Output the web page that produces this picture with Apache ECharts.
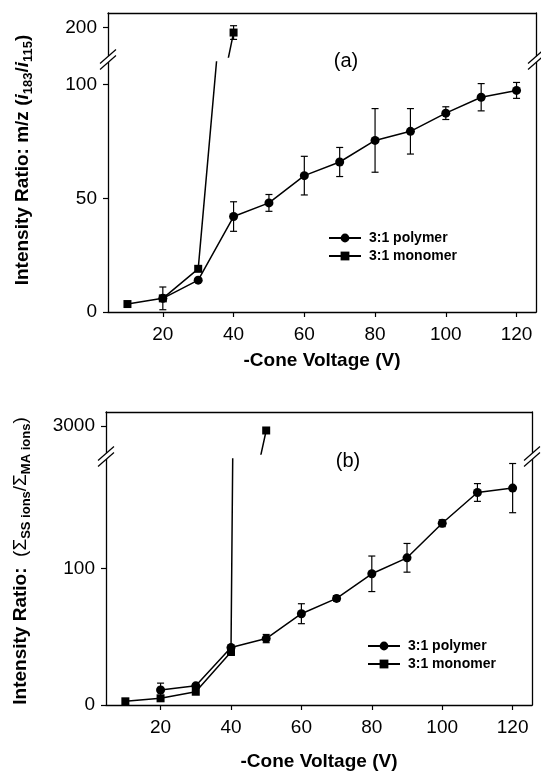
<!DOCTYPE html>
<html><head><meta charset="utf-8">
<script src="https://cdn.jsdelivr.net/npm/echarts@6/dist/echarts.min.js"></script>
<style>html,body{margin:0;padding:0;background:#fff}#c{width:541px;height:772px}</style>
</head><body><div id="c"></div>
<script>
// ---- data ----
const xVals = [10, 20, 30, 40, 50, 60, 70, 80, 90, 100, 110, 120];
const xTicks = [20, 40, 60, 80, 100, 120];
// panel (a)
const polyA    = [null, 6, 14, 42, 48, 60, 66, 75.5, 79.5, 87.5, 94.5, 97.5];
const polyAErr = [null, 5, 0, 6.5, 3.7, 8.5, 6.4, 14, 10, 2.8, 6, 3.5];
const monoA    = [3.5, 6, 19, 195];
const monoAErr = [0, 0, 0, 7];
const aLowTicks = [0, 50, 100];
const aHighTicks = [200];
// panel (b)
const polyB    = [null, 11, 14, 42, 48.6, 66.8, 78, 96, 107.7, 133, 155.5, 158.7];
const polyBErr = [null, 5, 1.5, 2, 3, 7.3, 2, 13, 10.5, 2.5, 6.5, 18];
const monoB    = [2.7, 4.9, 9.7, 38.8, 2920];
const bLowTicks = [0, 100];
const bHighTicks = [3000];
const names = ['3:1 polymer', '3:1 monomer'];

// ---- helpers ----
const FONT = "'Liberation Sans', Arial, sans-serif";
function pts(vals) { return vals.map((v, i) => [xVals[i], v]).filter(p => p[1] != null); }
function errPts(vals, errs) { return vals.map((v, i) => [xVals[i], v, errs[i]]).filter(p => p[1] != null && p[2] > 0); }
function errRender(params, api) {
  const x = api.value(0), y = api.value(1), e = api.value(2);
  const hi = api.coord([x, y + e]), lo = api.coord([x, y - e]);
  const w = 3.5, st = { stroke: '#000', lineWidth: 1.2 };
  return { type: 'group', children: [
    { type: 'line', shape: { x1: hi[0], y1: hi[1], x2: lo[0], y2: lo[1] }, style: st },
    { type: 'line', shape: { x1: hi[0] - w, y1: hi[1], x2: hi[0] + w, y2: hi[1] }, style: st },
    { type: 'line', shape: { x1: lo[0] - w, y1: lo[1], x2: lo[0] + w, y2: lo[1] }, style: st }
  ]};
}
const axisLineStyle = { show: true, lineStyle: { color: '#000', width: 1.3 } };
const labelStyle = { color: '#000', fontSize: 19, fontFamily: FONT, formatter: v => String(v) };

function xAxisLow(gi) {
  return { type: 'value', gridIndex: gi, min: 4.5, max: 125.5, position: 'bottom',
    axisLine: Object.assign({ onZero: false }, axisLineStyle),
    axisTick: { show: true, length: 5, customValues: xTicks, lineStyle: { color: '#000', width: 1.2 } },
    axisLabel: Object.assign({ margin: 13, customValues: xTicks }, labelStyle),
    splitLine: { show: false },
    name: '-Cone Voltage (V)', nameLocation: 'middle', nameGap: gi === 1 ? 39 : 47,
    nameTextStyle: { color: '#000', fontSize: 19, fontWeight: 'bold', fontFamily: FONT } };
}
function xAxisHigh(gi) {
  return { type: 'value', gridIndex: gi, min: 4.5, max: 125.5, position: 'top',
    axisLine: Object.assign({ onZero: false }, axisLineStyle),
    axisTick: { show: false }, axisLabel: { show: false }, splitLine: { show: false } };
}
function yAxisL(gi, min, max, ticks) {
  return { type: 'value', gridIndex: gi, min: min, max: max, position: 'left',
    axisLine: Object.assign({ onZero: false }, axisLineStyle),
    axisTick: { show: true, length: 5, customValues: ticks, lineStyle: { color: '#000', width: 1.2 } },
    axisLabel: Object.assign({ margin: 11, customValues: ticks }, labelStyle),
    splitLine: { show: false } };
}
function yAxisR(gi, min, max) {
  return { type: 'value', gridIndex: gi, min: min, max: max, position: 'right',
    axisLine: Object.assign({ onZero: false }, axisLineStyle),
    axisTick: { show: false }, axisLabel: { show: false }, splitLine: { show: false } };
}
function lineSeries(name, sym, size, data, xi, yi) {
  return { type: 'line', name: name, xAxisIndex: xi, yAxisIndex: yi, data: data, clip: true,
    symbol: sym, symbolSize: size, showSymbol: true, z: 3,
    lineStyle: { color: '#000', width: 1.5 }, itemStyle: { color: '#000', borderWidth: 0 },
    animation: false };
}
function errSeries(data, xi, yi) {
  return { type: 'custom', xAxisIndex: xi, yAxisIndex: yi, data: data, clip: true, z: 2,
    renderItem: errRender, animation: false, silent: true };
}
function breakMark(cx, cy) {
  const s = { stroke: '#000', lineWidth: 1.2 };
  return [
    { type: 'polygon', z: 100, shape: { points: [[cx - 8, cy + 4], [cx + 8, cy - 10], [cx + 8, cy - 4], [cx - 8, cy + 10]] }, style: { fill: '#fff', stroke: null } },
    { type: 'line', z: 101, shape: { x1: cx - 8, y1: cy + 4, x2: cx + 8, y2: cy - 10 }, style: s },
    { type: 'line', z: 101, shape: { x1: cx - 8, y1: cy + 10, x2: cx + 8, y2: cy - 4 }, style: s }
  ];
}

const grids = [
  { left: 108, width: 428, top: 13, height: 44 },   // 0: a upper
  { left: 108, width: 428, top: 62, height: 250 },  // 1: a lower
  { left: 106, width: 426, top: 412, height: 42 },  // 2: b upper
  { left: 106, width: 426, top: 459, height: 247 }  // 3: b lower
];
const xAxes = [xAxisHigh(0), xAxisLow(1), xAxisHigh(2), xAxisLow(3)];
const yAxes = [
  yAxisL(0, 170, 215, aHighTicks), yAxisL(1, 0, 110, aLowTicks),
  yAxisL(2, 2500, 3250, bHighTicks), yAxisL(3, 0, 180, bLowTicks),
  yAxisR(0, 170, 215), yAxisR(1, 0, 110), yAxisR(2, 2500, 3250), yAxisR(3, 0, 180)
];

const series = [
  // panel a lower
  errSeries(errPts(polyA, polyAErr), 1, 1),
  lineSeries(names[0], 'circle', 9, pts(polyA), 1, 1),
  lineSeries(names[1], 'rect', 8, pts(monoA), 1, 1),
  // panel a upper
  errSeries(errPts(monoA, monoAErr), 0, 0),
  lineSeries(names[1], 'rect', 8, pts(monoA), 0, 0),
  // panel b lower
  errSeries(errPts(polyB, polyBErr), 3, 3),
  lineSeries(names[0], 'circle', 9, pts(polyB), 3, 3),
  lineSeries(names[1], 'rect', 8, pts(monoB), 3, 3),
  // panel b upper
  lineSeries(names[1], 'rect', 8, pts(monoB), 2, 2)
];

const legendCommon = { orient: 'vertical', itemWidth: 32, itemHeight: 11, itemGap: 4, data: names,
  textStyle: { color: '#000', fontSize: 14, fontWeight: 'bold', fontFamily: FONT, padding: [0, 0, 0, 3] },
  selectedMode: false };

const richA = {
  b: { fontSize: 19, fontWeight: 'bold', fontFamily: FONT, fill: '#000', lineHeight: 23 },
  bi: { fontSize: 19, fontWeight: 'bold', fontStyle: 'italic', fontFamily: FONT, fill: '#000', lineHeight: 23 },
  s: { fontSize: 13, fontWeight: 'bold', fontFamily: FONT, fill: '#000', lineHeight: 13, verticalAlign: 'bottom' }
};
const richB = {
  b: { fontSize: 19, fontWeight: 'bold', fontFamily: FONT, fill: '#000', lineHeight: 23 },
  n: { fontSize: 19, fontFamily: FONT, fill: '#000', lineHeight: 23 },
  s: { fontSize: 13, fontWeight: 'bold', fontFamily: FONT, fill: '#000', lineHeight: 13, verticalAlign: 'bottom' }
};

const graphics = [].concat(
  breakMark(108, 59.5), breakMark(536, 59.5), breakMark(106, 456.5), breakMark(532, 456.5),
  [
    { type: 'text', x: 23, y: 160, rotation: Math.PI / 2, style: {
      text: '{b|Intensity Ratio: m/z (}{bi|i}{s|183}{b|/}{bi|i}{s|115}{b|)}', rich: richA,
      align: 'center', verticalAlign: 'middle', textAlign: 'center', textVerticalAlign: 'middle' } },
    { type: 'text', x: 21, y: 561, rotation: Math.PI / 2, style: {
      text: '{b|Intensity Ratio:  }{n|(Σ}{s|SS ions}{n|/Σ}{s|MA ions}{n|)}', rich: richB,
      align: 'center', verticalAlign: 'middle', textAlign: 'center', textVerticalAlign: 'middle' } },
    { type: 'text', x: 346, y: 61, style: { text: '(a)', fill: '#000', font: "20px 'Liberation Sans', Arial, sans-serif",
      align: 'center', verticalAlign: 'middle', textAlign: 'center', textVerticalAlign: 'middle' } },
    { type: 'text', x: 348, y: 461, style: { text: '(b)', fill: '#000', font: "20px 'Liberation Sans', Arial, sans-serif",
      align: 'center', verticalAlign: 'middle', textAlign: 'center', textVerticalAlign: 'middle' } }
  ]
);

const chart = echarts.init(document.getElementById('c'), null, { renderer: 'canvas' });
chart.setOption({
  animation: false,
  backgroundColor: '#fff',
  grid: grids,
  xAxis: xAxes,
  yAxis: yAxes,
  legend: [
    Object.assign({ left: 323, top: 226 }, legendCommon),
    Object.assign({ left: 362, top: 634 }, legendCommon)
  ],
  graphic: graphics,
  series: series
});
</script></body></html>
